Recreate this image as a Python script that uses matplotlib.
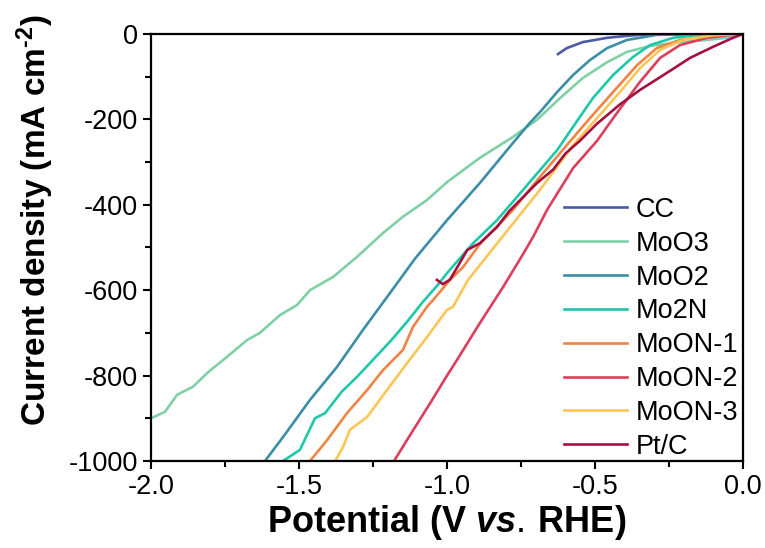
import numpy as np
import matplotlib
matplotlib.use("Agg")
import matplotlib.pyplot as plt
from matplotlib.ticker import MultipleLocator, FormatStrFormatter

plt.rcParams['font.family'] = ['Liberation Sans', 'DejaVu Sans']
plt.rcParams['axes.unicode_minus'] = False
plt.rcParams['mathtext.fontset'] = 'custom'
plt.rcParams['mathtext.rm'] = 'Liberation Sans'
plt.rcParams['mathtext.bf'] = 'Liberation Sans:bold'
plt.rcParams['mathtext.it'] = 'Liberation Sans:italic:bold'

# LSV curves (potential in V vs RHE, current density in mA cm-2)
cc_v = [-0.625, -0.61, -0.595, -0.541, -0.459, -0.40, -0.348, -0.25, -0.15, 0.0]
cc_j = [-47, -40, -33, -19, -9, -5, -2, -1, -0.5, 0]

moo3_v = [-2.0, -1.953, -1.912, -1.858, -1.807, -1.743, -1.676, -1.632, -1.564, -1.507,
          -1.463, -1.385, -1.304, -1.216, -1.149, -1.068, -1.0, -0.889, -0.777, -0.696,
          -0.618, -0.541, -0.459, -0.392, -0.314, -0.213, -0.122, -0.054, 0.0]
moo3_j = [-900, -885, -845, -826, -792, -756, -717, -700, -658, -635,
          -600, -569, -522, -466, -428, -389, -347, -290, -241, -201,
          -150, -103, -66, -42, -28, -19, -14, -9, 0]

moo2_v = [-1.615, -1.554, -1.463, -1.372, -1.284, -1.193, -1.108, -1.0, -0.889, -0.777,
          -0.720, -0.686, -0.628, -0.574, -0.517, -0.459, -0.392, -0.291, -0.15, 0.0]
moo2_j = [-1000, -944, -857, -780, -693, -607, -526, -436, -349, -255,
          -208, -183, -136, -96, -61, -33, -14, -2, 0, 0]

mo2n_v = [-1.554, -1.497, -1.446, -1.412, -1.356, -1.304, -1.25, -1.188, -1.135, -1.081,
          -1.034, -1.0, -0.912, -0.831, -0.743, -0.628, -0.56, -0.507, -0.439, -0.372,
          -0.314, -0.236, -0.15, 0.0]
mo2n_j = [-1000, -974, -900, -888, -838, -803, -763, -717, -674, -627,
          -590, -560, -490, -436, -365, -272, -203, -150, -96, -54,
          -26, -9, -2, 0]

moon1_v = [-1.463, -1.405, -1.338, -1.270, -1.216, -1.149, -1.115, -1.068, -1.047, -0.99,
           -0.946, -0.889, -0.777, -0.69, -0.595, -0.517, -0.439, -0.358, -0.291, -0.213,
           -0.1, 0.0]
moon1_j = [-1000, -951, -888, -834, -787, -740, -686, -639, -623, -576,
           -546, -492, -412, -338, -260, -197, -136, -73, -33, -14,
           -3, 0]

moon2_v = [-1.179, -1.12, -1.06, -1.0, -0.966, -0.889, -0.811, -0.753, -0.709, -0.662,
           -0.574, -0.493, -0.426, -0.348, -0.28, -0.213, -0.122, -0.05, 0.0]
moon2_j = [-1000, -934, -868, -800, -763, -677, -593, -527, -475, -412,
           -314, -250, -185, -112, -56, -26, -9, -3, 0]

moon3_v = [-1.378, -1.351, -1.328, -1.270, -1.203, -1.135, -1.068, -1.0, -0.98, -0.929,
           -0.821, -0.686, -0.574, -0.493, -0.416, -0.348, -0.28, -0.203, -0.1, 0.0]
moon3_j = [-1000, -967, -927, -897, -834, -771, -710, -646, -639, -576,
           -482, -365, -260, -197, -136, -80, -37, -14, -3, 0]

ptc_v = [-1.034, -1.014, -0.99, -0.96, -0.932, -0.889, -0.831, -0.79, -0.753, -0.696,
         -0.642, -0.60, -0.551, -0.493, -0.416, -0.348, -0.257, -0.179, -0.101, -0.034, 0.0]
ptc_j = [-576, -586, -575, -540, -506, -490, -452, -415, -389, -349,
         -318, -280, -250, -210, -165, -131, -91, -56, -30, -9, 0]

labels = ['CC', 'MoO3', 'MoO2', 'Mo2N', 'MoON-1', 'MoON-2', 'MoON-3', 'Pt/C']
colors = ['#4b5aa6', '#80d0a6', '#3a8ea6', '#1ec8a8', '#f08444', '#dd3f5a', '#fcc656', '#a5103e']
series = [(cc_v, cc_j), (moo3_v, moo3_j), (moo2_v, moo2_j), (mo2n_v, mo2n_j),
          (moon1_v, moon1_j), (moon2_v, moon2_j), (moon3_v, moon3_j), (ptc_v, ptc_j)]

fig = plt.figure(figsize=(7.65, 5.48), dpi=100)
ax = fig.add_axes([0.1974, 0.1588, 0.7739, 0.7792])

for (v, j), lab, col in zip(series, labels, colors):
    ax.plot(v, j, color=col, linewidth=1.9, label=lab)

ax.set_xlim(-2.0, 0.0)
ax.set_ylim(-1000, 0)
ax.xaxis.set_major_locator(MultipleLocator(0.5))
ax.xaxis.set_minor_locator(MultipleLocator(0.25))
ax.yaxis.set_major_locator(MultipleLocator(200))
ax.yaxis.set_minor_locator(MultipleLocator(100))
ax.xaxis.set_major_formatter(FormatStrFormatter('%.1f'))

ax.tick_params(which='both', direction='out', width=1.5, labelsize=19.5, top=False, right=False)
ax.tick_params(which='major', length=6)
ax.tick_params(which='minor', length=4)
for sp in ax.spines.values():
    sp.set_linewidth(1.6)

ax.set_xlabel(r'Potential (V $\mathit{vs.}\,$RHE)', fontsize=26, fontweight='bold', labelpad=2)
# hyphen (U+2010) in the superscript instead of the long math minus
ax.set_ylabel('Current density (mA cm$^{\\mathbf{\u20102}}$)', fontsize=24, fontweight='bold')
ax.yaxis.set_label_coords(-0.16, 0.565)

ax.legend(loc='upper left', bbox_to_anchor=(0.679, 0.644), frameon=False, fontsize=19.5,
          handlelength=2.35, handletextpad=0.3, labelspacing=0.29, borderaxespad=0)

fig.savefig('out.png', dpi=100)
